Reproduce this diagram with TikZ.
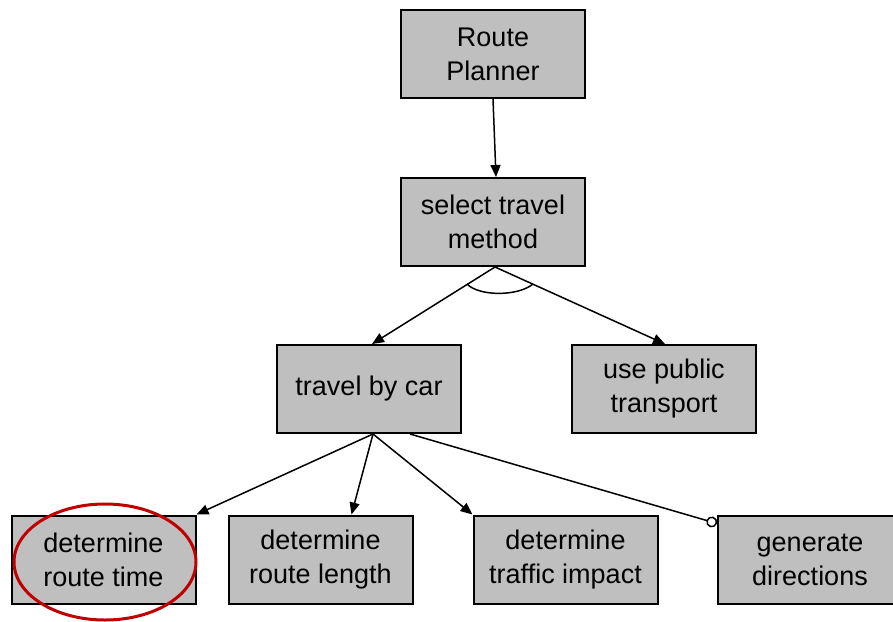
\documentclass[tikz,border=0pt]{standalone}
\usepackage{fontspec}
\setmainfont{Liberation Sans}
\usetikzlibrary{arrows.meta,calc}
\definecolor{boxgray}{RGB}{191,191,191}
\definecolor{circred}{RGB}{192,0,0}
\tikzset{
  goal/.style={draw=black, line width=2pt, fill=boxgray, minimum width=184pt, minimum height=88pt,
    inner sep=0pt, align=center, font=\fontsize{27}{34}\selectfont, text=black},
  conn/.style={line width=1.5pt, -{Triangle[length=12pt,width=10pt]}},
  optconn/.style={line width=1.5pt, -{Circle[open,length=11pt,line width=1.5pt]}},
  highlight/.style={draw=circred, line width=3pt}
}
\begin{document}
\begin{tikzpicture}[x=1pt,y=-1pt]
\useasboundingbox (0,0) rectangle (893,621);
\clip (0,0) rectangle (893,621);
\node[goal] (rp) at (493,54) {Route\\Planner};
\node[goal] (stm) at (493,222) {select travel\\method};
\node[goal] (car) at (369,389) {travel by car};
\node[goal] (pub) at (664,389) {use public\\transport};
\node[goal] (time) at (103.5,559.5) {determine\\route time};
\node[goal] (len) at (320.5,559.5) {determine\\route length};
\node[goal] (imp) at (565.5,559.5) {determine\\traffic impact};
\node[goal] (gen) at (810,559.5) {generate\\directions};

\draw[conn] (rp.south) -- ([xshift=3pt]stm.north);
\draw[conn] ([xshift=2pt]stm.south) -- ([xshift=3pt]car.north);
\draw[conn] ([xshift=2pt]stm.south) -- ([xshift=1pt]pub.north);
\draw[line width=1.5pt] (467,284) .. controls (479,296.5) and (518,296.5) .. (533,284);

\draw[conn] ([xshift=4pt]car.south) -- (time.north east);
\draw[conn] ([xshift=4pt]car.south) -- ([xshift=31pt]len.north);
\draw[conn] ([xshift=4pt]car.south) -- (imp.north west);
\draw[optconn] ([xshift=41pt]car.south) -- ([yshift=-9pt]gen.north west);

\draw[highlight] (105,562) ellipse [x radius=91, y radius=58];
\end{tikzpicture}
\end{document}
